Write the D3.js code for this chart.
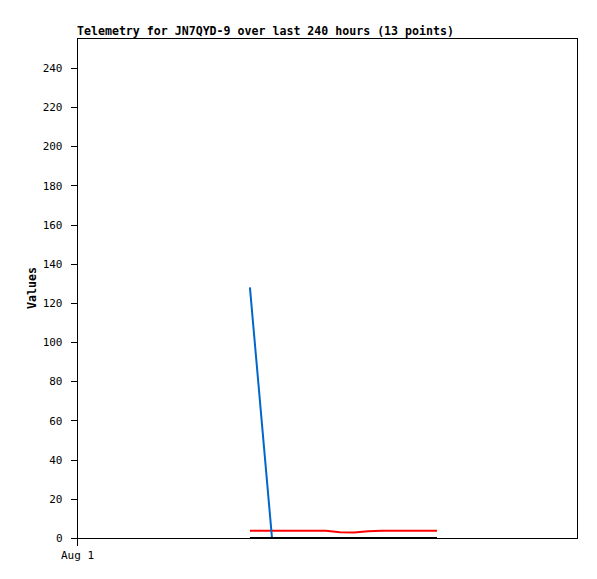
<!DOCTYPE html>
<html><head><meta charset="utf-8">
<script src="https://cdn.jsdelivr.net/npm/d3@7"></script>
<style>body{margin:0;background:#fff}svg{display:block}text{font-family:"DejaVu Sans Mono",monospace}</style>
</head><body>
<script>
const title = "Telemetry for JN7QYD-9 over last 240 hours (13 points)";
const yLabel = "Values";
const hours = [83.0, 93.6, 102.2, 110.9, 119.5, 126.2, 133.0, 139.7, 146.4, 153.1, 159.8, 166.6, 172.8];
const blueValues = [128, 0, 0, 0, 0, 0, 0, 0, 0, 0, 0, 0, 0];
const redValues = [3.7, 3.7, 3.7, 3.7, 3.7, 2.9, 2.8, 3.4, 3.7, 3.7, 3.7, 3.7, 3.7];
const blackValues = [0, 0, 0, 0, 0, 0, 0, 0, 0, 0, 0, 0, 0];
const yTicks = [0, 20, 40, 60, 80, 100, 120, 140, 160, 180, 200, 220, 240];
const xTickLabels = ["Aug 1"];
const startTime = new Date(2023, 7, 1, 0, 0, 0);

const W = 597, H = 579;
const m = {l: 77, r: 20, t: 38, b: 41};
const svg = d3.select("body").append("svg").attr("width", W).attr("height", H);
const x = d3.scaleTime().domain([startTime, d3.timeHour.offset(startTime, 240)]).range([m.l, W - m.r]);
const y = d3.scaleLinear().domain([0, 255.3]).range([H - m.b, m.t]);
const t = h => new Date(startTime.getTime() + h * 3600e3);

svg.append("rect").attr("x", m.l + 0.5).attr("y", m.t + 0.5)
  .attr("width", W - m.r - m.l).attr("height", H - m.b - m.t)
  .attr("fill", "none").attr("stroke", "#000");

const yAxis = svg.append("g").attr("transform", `translate(${m.l + 0.5},0)`)
  .call(d3.axisLeft(y).tickValues(yTicks).tickSize(7).tickPadding(8));
yAxis.select(".domain").remove();
yAxis.selectAll("text").attr("font-size", 11).attr("fill", "#000").attr("font-family", "DejaVu Sans Mono");
yAxis.selectAll("line").attr("stroke", "#000").attr("shape-rendering", "crispEdges");

const xAxis = svg.append("g").attr("transform", `translate(0,${H - m.b + 0.5})`)
  .call(d3.axisBottom(x).tickValues([startTime]).tickFormat((d, i) => xTickLabels[i]).tickSize(7).tickPadding(6));
xAxis.select(".domain").remove();
xAxis.selectAll("text").attr("font-size", 11).attr("fill", "#000").attr("font-family", "DejaVu Sans Mono");
xAxis.selectAll("line").attr("stroke", "#000").attr("shape-rendering", "crispEdges");

const line = d3.line().x((d, i) => x(t(hours[i]))).y(d => y(d));
[[redValues, "#ff0000"], [blueValues, "#0066cc"], [blackValues, "#000000"]].forEach(([vals, c]) => {
  svg.append("path").datum(vals).attr("d", line).attr("fill", "none")
    .attr("stroke", c).attr("stroke-width", 2).attr("stroke-linejoin", "miter");
});

svg.append("text").attr("x", m.l).attr("y", 35).attr("font-size", 11.6).attr("font-weight", "bold")
  .text(title);
svg.append("text").attr("transform", `translate(36,${(m.t + H - m.b) / 2}) rotate(-90)`)
  .attr("text-anchor", "middle").attr("font-size", 11.6).attr("font-weight", "bold").text(yLabel);
</script>
</body></html>
